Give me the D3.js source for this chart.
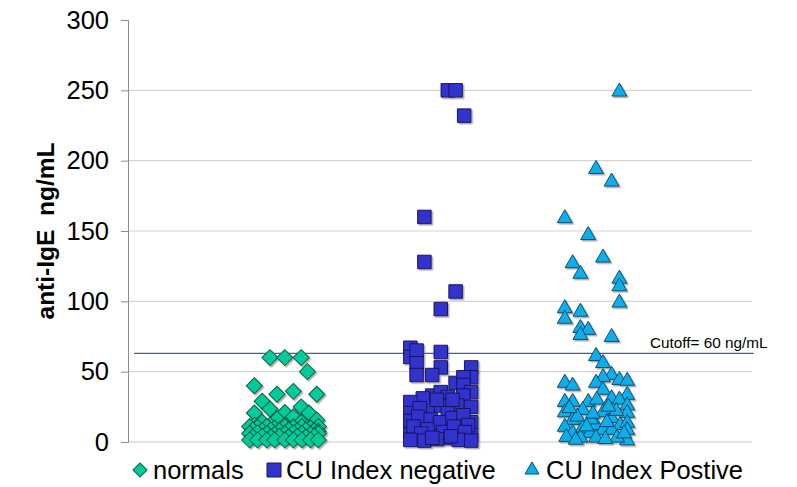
<!DOCTYPE html>
<html>
<head>
<meta charset="utf-8">
<script src="https://cdn.jsdelivr.net/npm/d3@7"></script>
<style>
  body { margin: 0; background: #fff; }
  text { font-family: "Liberation Sans", Arial, sans-serif; }
</style>
</head>
<body>
<div class="canvas"></div>
<script>
// groups sit at x = 1, 2, 3; each point is [jitter, value]
const groups = ['normals', 'CU Index negative', 'CU Index Postive'];
const yTicks = [0, 50, 100, 150, 200, 250, 300];
const cutoffValue = 63;
const cutoffLabel = 'Cutoff= 60 ng/mL';

const normals = [
  [-0.09, 60], [0.005, 60], [0.11, 60], [0.15, 50], [-0.19, 40],
  [-0.045, 34], [0.06, 36], [0.21, 34], [-0.14, 29], [-0.09, 23.5],
  [-0.19, 20.6], [0.005, 21], [0.11, 25], [0.16, 20.6], [-0.045, 16.4],
  [0.06, 18], [0.21, 15.6], [-0.19, 12], [-0.14, 14], [0.005, 12],
  [0.11, 14], [-0.09, 12],
  [-0.22, 11], [-0.17, 10.5], [-0.11, 11], [-0.06, 10], [0.005, 11], [0.06, 10.5], [0.115, 11], [0.17, 10], [0.22, 11],
  [-0.2, 8.5], [-0.14, 8], [-0.085, 8.5], [-0.03, 8], [0.03, 8.5], [0.085, 8], [0.14, 8.5], [0.195, 8], [0.22, 7.5],
  [-0.22, 6], [-0.17, 6.5], [-0.11, 6], [-0.06, 5.5], [0.005, 6], [0.06, 6.5], [0.115, 6], [0.17, 5.5], [0.22, 6],
  [-0.2, 3.5], [-0.14, 4], [-0.085, 3.5], [-0.03, 4], [0.03, 3.5], [0.085, 4], [0.14, 3.5], [0.195, 4],
  [-0.22, 1.5], [-0.17, 1.5], [-0.11, 1.5], [-0.06, 1.5], [0.005, 1.5], [0.06, 1.5], [0.115, 1.5], [0.17, 1.5], [0.22, 1.5]
];

const cuNegative = [
  [0.05, 250], [0.1, 250], [0.155, 232], [-0.1, 160], [-0.1, 128],
  [0.1, 107], [0.005, 94.5], [-0.19, 67], [-0.19, 60.5], [-0.15, 65],
  [0.005, 64], [-0.15, 56], [-0.15, 47.6], [0.005, 53], [-0.05, 47.6],
  [0.2, 53], [0.2, 46], [0.1, 42], [0.15, 46], [0.15, 40.5],
  [0.2, 35.5], [0.15, 33], [-0.05, 33], [0.005, 35.5], [-0.11, 31],
  [-0.19, 28.4], [0.05, 32], [0.11, 26], [0.2, 25], [-0.19, 20.6],
  [0.005, 26], [-0.1, 12], [0.05, 20.6], [0.2, 14], [0.11, 8.5],
  [0.2, 5], [-0.15, 3.5], [0.05, 2.8], [-0.03, 8.5], [-0.19, 8.5],
  [-0.08, 20.6], [-0.13, 24], [0.08, 30], [-0.02, 30],
  [-0.19, 15], [-0.14, 18], [-0.06, 16], [0.0, 14], [0.08, 17], [0.15, 19], [0.18, 12],
  [-0.17, 11], [-0.08, 9], [0.02, 7], [0.09, 11], [0.16, 7], [-0.12, 6],
  [-0.19, 1.5], [-0.1, 1], [-0.02, 2], [0.12, 1.5], [0.2, 1], [0.07, 4], [-0.05, 3]
];

const cuPositive = [
  [0.15, 249], [0.0, 194], [0.1, 185], [-0.2, 159], [-0.05, 147],
  [-0.15, 127], [0.045, 131], [-0.1, 119.5], [0.15, 116], [0.15, 110.6],
  [0.15, 99], [-0.2, 95], [-0.1, 92.5], [-0.2, 87.5], [-0.1, 81],
  [-0.05, 79.6], [-0.1, 76], [0.1, 74.6],
  [0.0, 61], [0.045, 56], [0.1, 47.6], [0.045, 46], [0.15, 44],
  [0.2, 43.4], [0.0, 42], [-0.2, 42], [-0.15, 40], [0.045, 37],
  [0.2, 33.4], [0.1, 31], [-0.2, 28.4], [-0.15, 28.4], [-0.05, 28.4],
  [0.005, 30], [0.15, 30], [0.2, 26], [-0.2, 21], [-0.085, 22.7],
  [0.045, 21], [0.1, 17], [0.2, 20.6], [-0.15, 15.6], [-0.2, 10.7],
  [-0.085, 10], [0.0, 12], [0.155, 12], [0.2, 13.5], [0.045, 8.5],
  [0.1, 8.5], [-0.15, 6.4], [-0.04, 6.4], [0.2, 8.5], [0.2, 1],
  [-0.1, 3], [0.0, 3], [0.135, 3], [-0.19, 3.5],
  [-0.12, 18], [-0.03, 16], [0.07, 14], [0.13, 22], [-0.17, 24], [0.08, 25],
  [-0.06, 11], [0.18, 6], [-0.13, 1.5], [0.06, 2], [-0.02, 20]
];

const series = [
  {name: groups[0], x: 1, data: normals, shape: 'diamond', fill: '#00cc99', stroke: '#0b5e49'},
  {name: groups[1], x: 2, data: cuNegative, shape: 'square', fill: '#3333cc', stroke: '#17175e'},
  {name: groups[2], x: 3, data: cuPositive, shape: 'triangle', fill: '#0aaeea', stroke: '#0a4e6e'}
];

const dims = {width: 797, height: 487};
const plot = {left: 128, right: 752, top: 20, bottom: 442};

const svg = d3.select('.canvas')
    .append('svg')
    .attr('width', dims.width)
    .attr('height', dims.height);

const defs = svg.append('defs');
defs.append('filter')
    .attr('id', 'shadow')
    .attr('x', '-30%').attr('y', '-30%').attr('width', '160%').attr('height', '160%')
  .append('feDropShadow')
    .attr('dx', 1.5).attr('dy', 1.5).attr('stdDeviation', 0.6)
    .attr('flood-color', '#777').attr('flood-opacity', 0.6);

const x = d3.scaleLinear().domain([0, 4]).range([plot.left, plot.right]);
const y = d3.scaleLinear().domain([0, 300]).range([plot.bottom, plot.top]);

// gridlines
svg.append('g')
    .selectAll('line')
    .data(yTicks.filter(t => t > 0 && t < 300))
    .join('line')
    .attr('x1', plot.left).attr('x2', plot.right)
    .attr('y1', d => y(d)).attr('y2', d => y(d))
    .attr('stroke', '#d4d4d4').attr('stroke-width', 1.2);

// x baseline
svg.append('line')
    .attr('x1', plot.left).attr('x2', plot.right)
    .attr('y1', y(0)).attr('y2', y(0))
    .attr('stroke', '#c8c8c8').attr('stroke-width', 1.2);

// y axis
const yAxis = svg.append('g')
    .attr('transform', `translate(${plot.left},0)`)
    .call(d3.axisLeft(y).tickValues(yTicks).tickSize(7).tickPadding(12));
yAxis.select('.domain').attr('stroke', '#8c8c8c');
yAxis.selectAll('.tick line').attr('stroke', '#8c8c8c');
yAxis.selectAll('.tick text')
    .attr('font-size', 25.5)
    .attr('font-family', '"Liberation Sans", Arial, sans-serif')
    .attr('fill', '#000');

svg.append('text')
    .attr('transform', `translate(54, ${(plot.top + plot.bottom) / 2}) rotate(-90)`)
    .attr('text-anchor', 'middle')
    .attr('font-size', 24.5)
    .attr('font-weight', 'bold')
    .attr('xml:space', 'preserve')
    .style('white-space', 'pre')
    .text('anti-IgE  ng/mL');

// cutoff line
svg.append('line')
    .attr('x1', x(0.04)).attr('x2', x(4.01))
    .attr('y1', y(cutoffValue)).attr('y2', y(cutoffValue))
    .attr('stroke', '#5050b0').attr('stroke-width', 1.2);

svg.append('text')
    .attr('x', 650).attr('y', y(cutoffValue) - 5)
    .attr('font-size', 15.3)
    .text(cutoffLabel);

const symbolPath = (shape, s) => {
    if (shape === 'diamond') return d3.symbol(d3.symbolSquare, s * s / 2)();
    if (shape === 'square') return d3.symbol(d3.symbolSquare, s * s)();
    return d3.symbol(d3.symbolTriangle, Math.sqrt(3) / 4 * s * s)();
};
const markerSize = {diamond: 16, square: 13.5, triangle: 15};

const marks = svg.append('g').attr('filter', 'url(#shadow)');
series.forEach(s => {
    marks.append('g')
        .selectAll('path')
        .data(s.data)
        .join('path')
        .attr('d', symbolPath(s.shape, markerSize[s.shape]))
        .attr('transform', d => `translate(${x(s.x + d[0])},${y(d[1])})` + (s.shape === 'diamond' ? ' rotate(45)' : ''))
        .attr('fill', s.fill)
        .attr('stroke', s.stroke)
        .attr('stroke-width', 1);
});

// legend
const legendItems = [
    {sx: 140, tx: 153},
    {sx: 274, tx: 286},
    {sx: 532, tx: 546}
];
const legend = svg.append('g');
series.forEach((s, i) => {
    const it = legendItems[i];
    legend.append('path')
        .attr('d', symbolPath(s.shape, 14))
        .attr('transform', `translate(${it.sx},470)` + (s.shape === 'diamond' ? ' rotate(45)' : ''))
        .attr('fill', s.fill)
        .attr('stroke', s.stroke)
        .attr('stroke-width', 1);
    legend.append('text')
        .attr('x', it.tx).attr('y', 479)
        .attr('font-size', 25.5)
        .text(s.name);
});
</script>
</body>
</html>
